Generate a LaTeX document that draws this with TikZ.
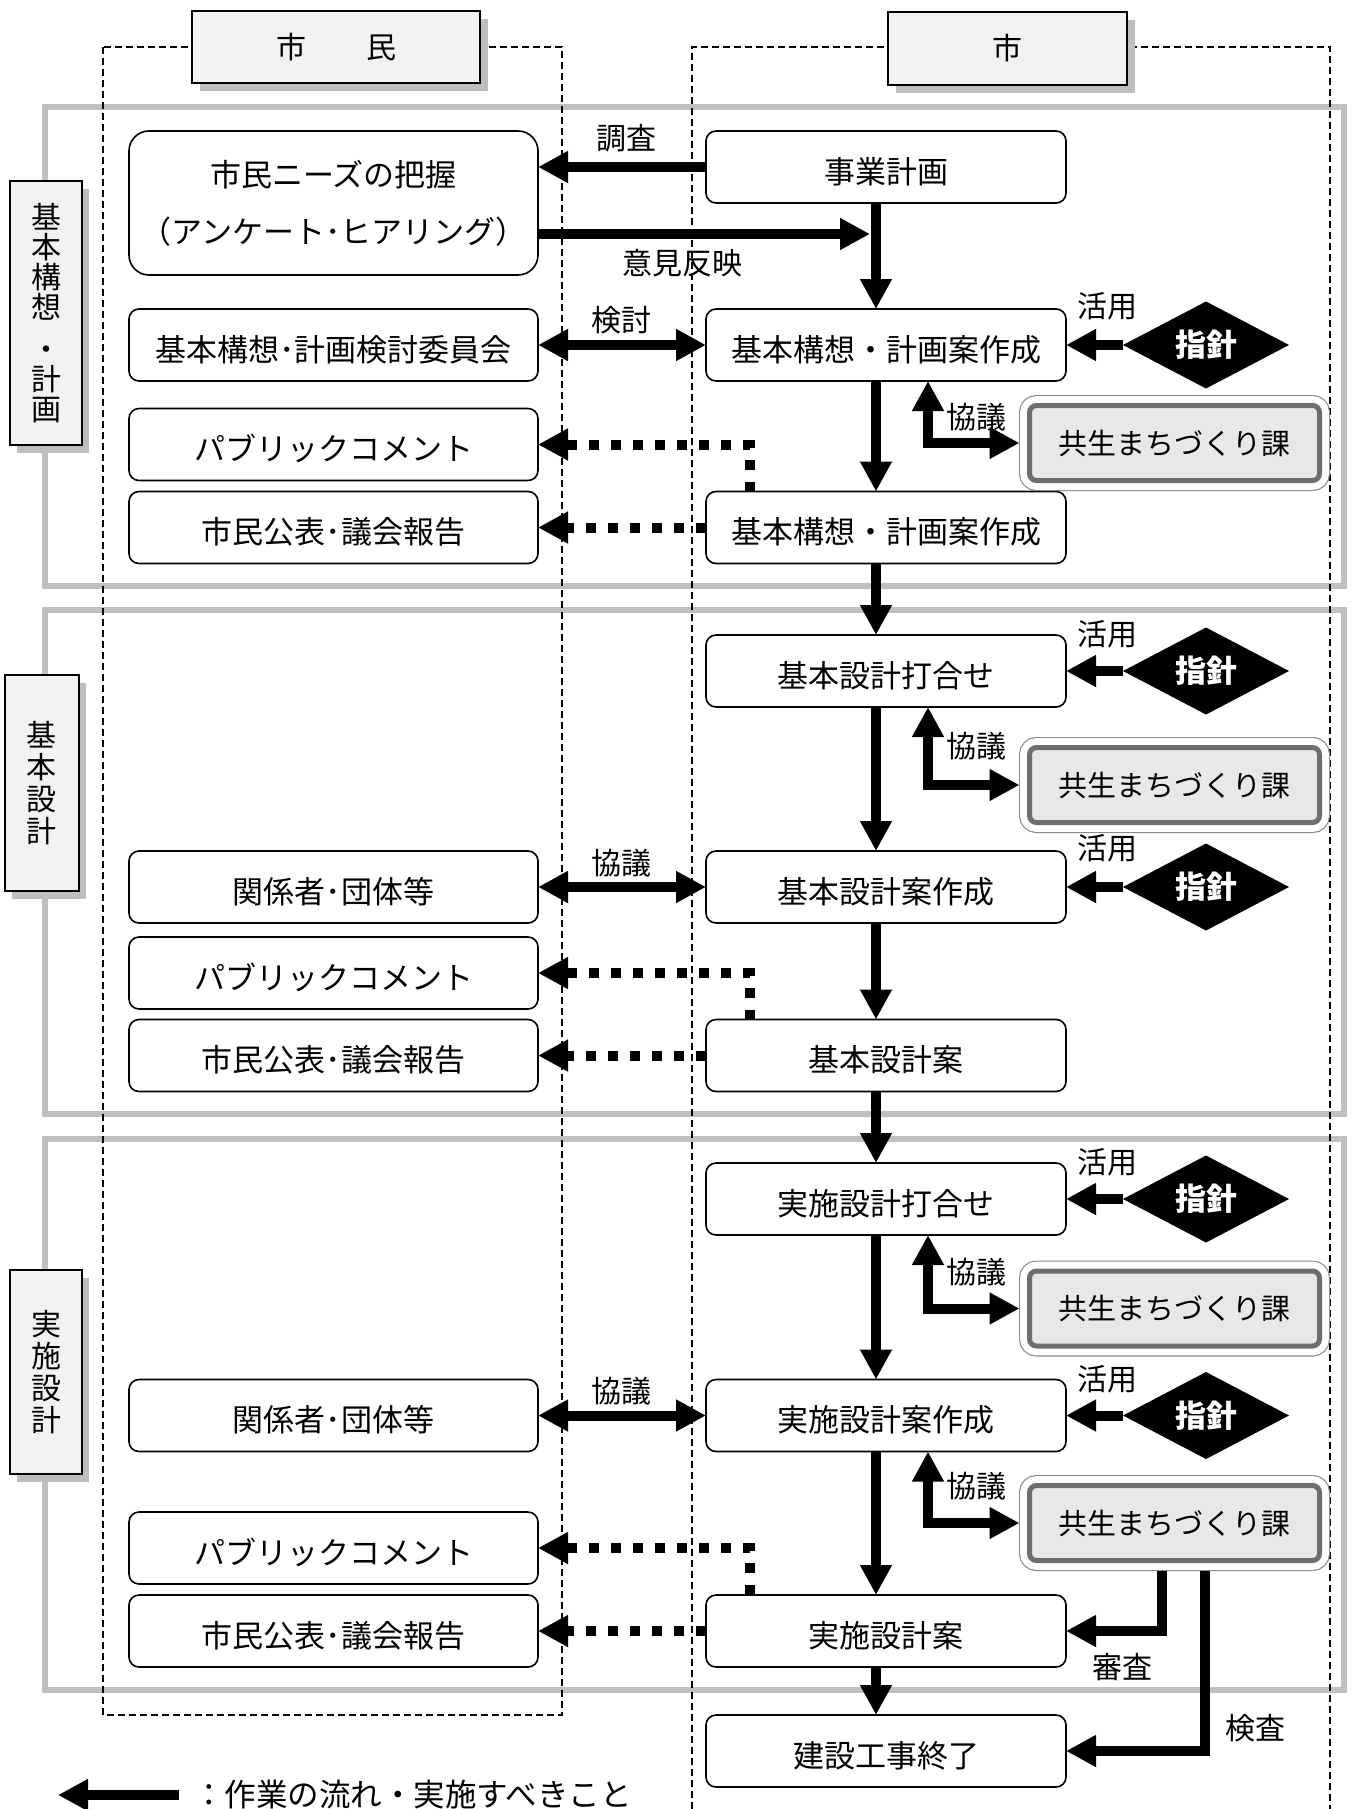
\documentclass[tikz,border=0pt]{standalone}
\usepackage{fontspec}
\setmainfont{Noto Sans CJK JP}
\usetikzlibrary{arrows.meta,shapes.geometric,shadows,calc}

\definecolor{framegray}{HTML}{C0C0C0}
\definecolor{headfill}{HTML}{F2F2F2}
\definecolor{shadowgray}{HTML}{BEBEBE}
\definecolor{deptfill}{HTML}{E8E8E8}
\definecolor{deptline}{HTML}{6E6E6E}
\definecolor{deptouter}{HTML}{8C8C8C}

\newcommand{\dgbox}{\fontsize{31}{38}\selectfont}
\newcommand{\dgdept}{\fontsize{29}{36}\selectfont}
\newcommand{\dglab}{\fontsize{30}{36}\selectfont}
\newcommand{\dgvert}{\fontsize{30}{32}\selectfont}

\begin{document}
\begin{tikzpicture}[x=1pt,y=-1pt,
  every node/.style={inner sep=0pt,outer sep=0pt},
  roundbox/.style={draw,line width=1.6pt,rounded corners=10pt,fill=white,
    minimum width=360pt,minimum height=72pt,font=\dgbox},
  stepbox/.style={roundbox,text height=32pt,text depth=0pt},
  citbox/.style={stepbox,minimum width=409pt},
  headbox/.style={draw,line width=2pt,fill=headfill,font=\dglab,
    drop shadow={shadow xshift=8pt,shadow yshift=-8pt,fill=shadowgray,opacity=1}},
  phasebox/.style={draw,line width=2pt,fill=headfill,align=center,font=\dgvert,
    minimum width=72pt,
    drop shadow={shadow xshift=7pt,shadow yshift=-8pt,fill=shadowgray,opacity=1}},
  shishin/.style={diamond,aspect=2,fill=black,text=white,
    minimum width=166pt,minimum height=87pt,font=\dgbox\bfseries},
  dept/.style={rounded corners=7pt,fill=deptfill,draw=deptline,line width=5pt,
    minimum width=290pt,minimum height=75pt,outer sep=10pt,font=\dgdept,
    preaction={draw=deptouter,line width=21pt},
    preaction={draw=white,line width=18.6pt}},
  lbl/.style={font=\dglab},
  flow/.style={line width=10pt,-{Triangle[length=30pt,width=30pt]}},
  biflow/.style={line width=10pt,
    {Triangle[length=30pt,width=30pt]}-{Triangle[length=30pt,width=30pt]}},
  dotflow/.style={line width=10pt,dash pattern=on 10pt off 12pt,
    -{Triangle[length=30pt,width=30pt]}},
  phaseframe/.style={draw=framegray,line width=6.5pt},
  column/.style={line width=1.3pt,dash pattern=on 7pt off 4pt},
]
\useasboundingbox (0,0) rectangle (1353,1809);
\clip (0,0) rectangle (1353,1809);

% phase frames
\draw[phaseframe] (45,107) rectangle (1344,586);
\draw[phaseframe] (45,610) rectangle (1344,1114);
\draw[phaseframe] (45,1139) rectangle (1344,1690);

% swimlanes
\draw[column] (103,47) rectangle (562,1715);
\draw[column] (692,1809) -- (692,47) -- (1330,47) -- (1330,1809);

% lane headers
\node[headbox,minimum width=288pt,minimum height=72pt] (hcit) at (336,47) {市　　民};
\node[headbox,minimum width=239pt,minimum height=73pt] (hcity) at (1007.5,48.5) {市};

% phase labels
\node[phasebox,minimum height=264pt,font=\fontsize{30}{30}\selectfont] (ph1) at (46,313)
  {基\\本\\構\\想\\[12pt]・\\計\\画};
\node[phasebox,minimum width=74pt,minimum height=216pt] (ph2) at (42,783)
  {基\\本\\設\\計};
\node[phasebox,minimum height=204pt] (ph3) at (46,1372)
  {実\\施\\設\\計};

% citizen side
\node[roundbox,minimum width=409pt,minimum height=144pt,rounded corners=20pt,
  align=center,font=\fontsize{31}{57}\selectfont] (needs) at (333.5,203)
  {市民ニーズの把握\\（アンケート･ヒアリング）};
\node[citbox] (iinkai) at (333.5,345) {基本構想･計画検討委員会};
\node[citbox] (pub1) at (333.5,444.5) {パブリックコメント};
\node[citbox] (kohyo1) at (333.5,527.5) {市民公表･議会報告};
\node[citbox] (kankei2) at (333.5,887) {関係者･団体等};
\node[citbox] (pub2) at (333.5,973) {パブリックコメント};
\node[citbox] (kohyo2) at (333.5,1055.5) {市民公表･議会報告};
\node[citbox] (kankei3) at (333.5,1415.5) {関係者･団体等};
\node[citbox] (pub3) at (333.5,1548) {パブリックコメント};
\node[citbox] (kohyo3) at (333.5,1631) {市民公表･議会報告};

% city side
\node[stepbox] (jigyo) at (886,167) {事業計画};
\node[stepbox] (plan1) at (886,345) {基本構想・計画案作成};
\node[stepbox] (plan2) at (886,527.5) {基本構想・計画案作成};
\node[stepbox] (bmeet) at (886,671) {基本設計打合せ};
\node[stepbox] (bdraft) at (886,887) {基本設計案作成};
\node[stepbox] (bplan) at (886,1055.5) {基本設計案};
\node[stepbox] (dmeet) at (886,1199) {実施設計打合せ};
\node[stepbox] (ddraft) at (886,1415.5) {実施設計案作成};
\node[stepbox] (dplan) at (886,1631) {実施設計案};
\node[stepbox] (done) at (886,1751) {建設工事終了};

% guidelines
\node[shishin] (g1) at (1206,345) {指針};
\node[shishin] (g2) at (1206,671) {指針};
\node[shishin] (g3) at (1206,887) {指針};
\node[shishin] (g4) at (1206,1199) {指針};
\node[shishin] (g5) at (1206,1415.5) {指針};

% town-planning section
\node[dept] (k1) at (1174.5,443) {共生まちづくり課};
\node[dept] (k2) at (1174.5,785) {共生まちづくり課};
\node[dept] (k3) at (1174.5,1308.5) {共生まちづくり課};
\node[dept] (k4) at (1174.5,1523) {共生まちづくり課};

% helper columns for connectors
\coordinate (fx) at (876,0);
\coordinate (ex) at (928,0);
\coordinate (dx) at (750,0);
\coordinate (sx) at (1162,0);
\coordinate (kx) at (1205,0);
\coordinate (yk) at (870,234);

% main flow
\draw[flow] (jigyo.south -| fx) -- (plan1.north -| fx);
\draw[flow] (plan1.south -| fx) -- (plan2.north -| fx);
\draw[flow] (plan2.south -| fx) -- (bmeet.north -| fx);
\draw[flow] (bmeet.south -| fx) -- (bdraft.north -| fx);
\draw[flow] (bdraft.south -| fx) -- (bplan.north -| fx);
\draw[flow] (bplan.south -| fx) -- (dmeet.north -| fx);
\draw[flow] (dmeet.south -| fx) -- (ddraft.north -| fx);
\draw[flow] (ddraft.south -| fx) -- (dplan.north -| fx);
\draw[flow] (dplan.south -| fx) -- (done.north -| fx);

% citizen exchanges
\draw[flow] (jigyo.west) -- (jigyo.west -| needs.east);
\draw[flow] (needs.east |- yk) -- (yk);
\draw[biflow] (iinkai.east) -- (plan1.west);
\draw[biflow] (kankei2.east) -- (bdraft.west);
\draw[biflow] (kankei3.east) -- (ddraft.west);

\draw[dotflow] (plan2.north -| dx) |- (pub1.east);
\draw[dotflow] (plan2.west) -- (kohyo1.east);
\draw[dotflow] (bplan.north -| dx) |- (pub2.east);
\draw[dotflow] (bplan.west) -- (kohyo2.east);
\draw[dotflow] (dplan.north -| dx) |- (pub3.east);
\draw[dotflow] (dplan.west) -- (kohyo3.east);

% guideline use
\draw[flow] (g1.west) -- (plan1.east);
\draw[flow] (g2.west) -- (bmeet.east);
\draw[flow] (g3.west) -- (bdraft.east);
\draw[flow] (g4.west) -- (dmeet.east);
\draw[flow] (g5.west) -- (ddraft.east);

% consultation with the section
\draw[biflow] (plan1.south -| ex) |- (k1.west);
\draw[biflow] (bmeet.south -| ex) |- (k2.west);
\draw[biflow] (dmeet.south -| ex) |- (k3.west);
\draw[biflow] (ddraft.south -| ex) |- (k4.west);

% review and inspection
\draw[flow] (k4.south -| sx) |- (dplan.east);
\draw[flow] (k4.south -| kx) |- (done.east);

% connector labels
\node[lbl] (l-chosa) at (626,138) {調査};
\node[lbl] (l-iken) at (682,263) {意見反映};
\node[lbl] (l-kento) at (621,320) {検討};
\node[lbl] (l-kyo2) at (621,863) {協議};
\node[lbl] (l-kyo3) at (621,1391) {協議};
\node[lbl] (l-kyo-a) at (976,417) {協議};
\node[lbl] (l-kyo-b) at (976,746) {協議};
\node[lbl] (l-kyo-c) at (976,1272) {協議};
\node[lbl] (l-kyo-d) at (976,1486) {協議};
\node[lbl] (l-kat1) at (1107,306) {活用};
\node[lbl] (l-kat2) at (1107,634) {活用};
\node[lbl] (l-kat3) at (1107,848) {活用};
\node[lbl] (l-kat4) at (1107,1162) {活用};
\node[lbl] (l-kat5) at (1107,1379) {活用};
\node[lbl] (l-shinsa) at (1122,1667) {審査};
\node[lbl] (l-kensa) at (1255,1728) {検査};

% legend
\coordinate (legtip) at (58,1795);
\coordinate (legtail) at (179,1795);
\draw[flow] (legtail) -- (legtip);
\node[anchor=west,font=\fontsize{31.5}{38}\selectfont] (legtext) at (193,1795)
  {：作業の流れ・実施すべきこと};
\end{tikzpicture}
\end{document}
